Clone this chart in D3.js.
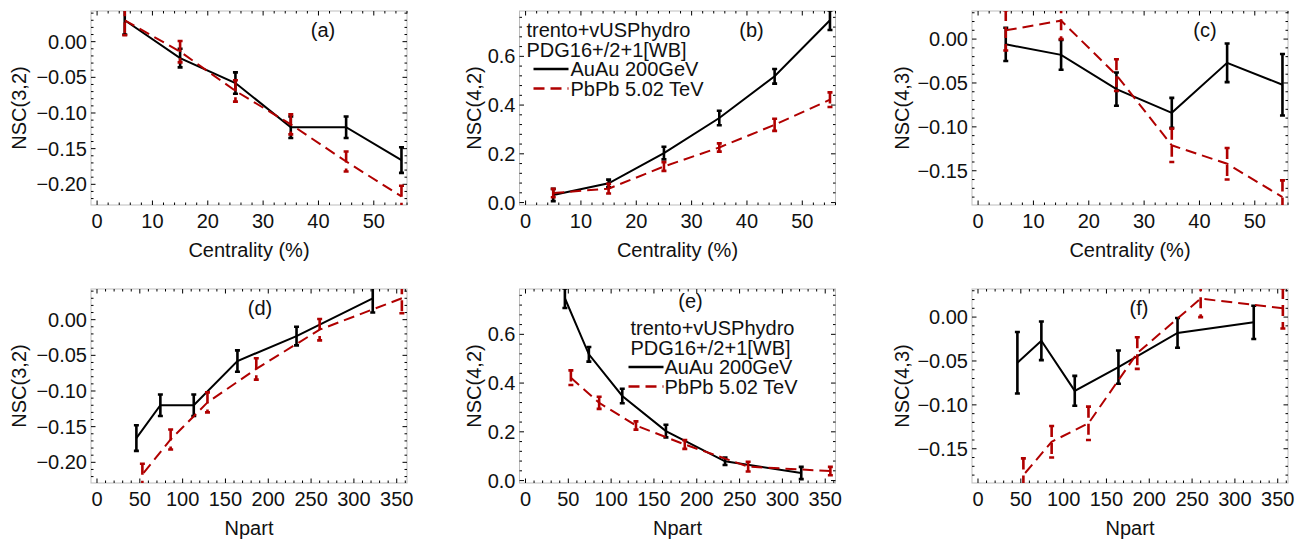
<!DOCTYPE html>
<html>
<head>
<meta charset="utf-8">
<script src="https://cdn.jsdelivr.net/npm/d3@7"></script>
<style>
  body { margin: 0; background: #fff; }
  text { font-family: "Liberation Sans", Arial, sans-serif; fill: #111; }
</style>
</head>
<body>
<div id="chart"></div>
<script>
// Data: centrality bins and the matching Npart for each system
const centrality = [5, 15, 25, 35, 45, 55];
const npartAuAu = [322, 233, 164, 113, 74, 46];
const npartPbPb = [356, 260, 186, 129, 86, 53];

// NSC values and their errors
const nsc32AuAu = [0.030, -0.023, -0.058, -0.120, -0.120, -0.166];
const nsc32AuAuErr = [0.020, 0.013, 0.015, 0.015, 0.015, 0.018];
const nsc32PbPb = [0.030, -0.014, -0.069, -0.116, -0.168, -0.217];
const nsc32PbPbErr = [0.021, 0.015, 0.015, 0.014, 0.014, 0.015];

const nsc42AuAu = [0.031, 0.079, 0.203, 0.347, 0.518, 0.748];
const nsc42AuAuErr = [0.025, 0.015, 0.026, 0.030, 0.030, 0.040];
const nsc42PbPb = [0.039, 0.057, 0.148, 0.226, 0.319, 0.422];
const nsc42PbPbErr = [0.017, 0.020, 0.018, 0.017, 0.025, 0.030];

const nsc43AuAu = [-0.006, -0.018, -0.057, -0.084, -0.027, -0.052];
const nsc43AuAuErr = [0.019, 0.017, 0.019, 0.017, 0.022, 0.035];
const nsc43PbPb = [0.010, 0.021, -0.041, -0.121, -0.142, -0.180];
const nsc43PbPbErr = [0.023, 0.021, 0.018, 0.019, 0.018, 0.019];

// Tick labels
const centralityTicks = [0, 10, 20, 30, 40, 50];
const npartTicks = [0, 50, 100, 150, 200, 250, 300, 350];
const nsc32Ticks = [-0.20, -0.15, -0.10, -0.05, 0.00];
const nsc42Ticks = [0.0, 0.2, 0.4, 0.6];
const nsc43Ticks = [-0.15, -0.10, -0.05, 0.00];

const legendLines = ["trento+vUSPhydro", "PDG16+/2+1[WB]"];
const seriesNames = ["AuAu 200GeV", "PbPb 5.02 TeV"];

// Layout
const W = 1312, H = 542;
const cols = [91, 519.5, 972];
const rows = [11, 289];
const pw = 316, ph = 194;
const black = "#000", red = "#b00000";
const dash = "11,6";

const svg = d3.select("#chart").append("svg")
    .attr("width", W)
    .attr("height", H);

const zip = (xs, ys, es) => xs.map((x, i) => ({ x: x, y: ys[i], e: es[i] }));

const xCent = { domain: [-1.1, 56], ticks: centralityTicks, minor: 2, fmt: d3.format("d"), title: "Centrality (%)" };
const xNpart = { domain: [-7, 362], ticks: npartTicks, minor: 10, fmt: d3.format("d"), title: "Npart" };
const y32 = { domain: [-0.229, 0.043], ticks: nsc32Ticks, minor: 0.01, fmt: d3.format(".2f"), title: "NSC(3,2)", off: 72 };
const y42 = { domain: [-0.01, 0.786], ticks: nsc42Ticks, minor: 0.04, fmt: d3.format(".1f"), title: "NSC(4,2)", off: 46 };
const y43 = { domain: [-0.189, 0.032], ticks: nsc43Ticks, minor: 0.01, fmt: d3.format(".2f"), title: "NSC(4,3)", off: 70 };

const panels = [
  { label: "(a)", col: 0, row: 0, xa: xCent, ya: y32, lx: 232, ly: 26,
    au: zip(centrality, nsc32AuAu, nsc32AuAuErr), pb: zip(centrality, nsc32PbPb, nsc32PbPbErr) },
  { label: "(b)", col: 1, row: 0, xa: xCent, ya: y42, lx: 232, ly: 26, legend: { x: 7, y: 26, sx: 14, tx: 51 },
    au: zip(centrality, nsc42AuAu, nsc42AuAuErr), pb: zip(centrality, nsc42PbPb, nsc42PbPbErr) },
  { label: "(c)", col: 2, row: 0, xa: xCent, ya: y43, lx: 233, ly: 26,
    au: zip(centrality, nsc43AuAu, nsc43AuAuErr), pb: zip(centrality, nsc43PbPb, nsc43PbPbErr) },
  { label: "(d)", col: 0, row: 1, xa: xNpart, ya: y32, lx: 169, ly: 26,
    au: zip(npartAuAu, nsc32AuAu, nsc32AuAuErr), pb: zip(npartPbPb, nsc32PbPb, nsc32PbPbErr) },
  { label: "(e)", col: 1, row: 1, xa: xNpart, ya: y42, lx: 171, ly: 19, legend: { x: 111, y: 46, sx: 109, tx: 145 },
    au: zip(npartAuAu, nsc42AuAu, nsc42AuAuErr), pb: zip(npartPbPb, nsc42PbPb, nsc42PbPbErr) },
  { label: "(f)", col: 2, row: 1, xa: xNpart, ya: y43, lx: 167, ly: 26,
    au: zip(npartAuAu, nsc43AuAu, nsc43AuAuErr), pb: zip(npartPbPb, nsc43PbPb, nsc43PbPbErr) }
];

function minorTicks(domain, step) {
  const start = Math.ceil(domain[0] / step - 1e-9);
  const end = Math.floor(domain[1] / step + 1e-9);
  return d3.range(start, end + 1).map(k => k * step);
}

panels.forEach((p, idx) => {
  const g = svg.append("g")
      .attr("transform", `translate(${cols[p.col]},${rows[p.row]})`);

  const x = d3.scaleLinear().domain(p.xa.domain).range([0, pw]);
  const y = d3.scaleLinear().domain(p.ya.domain).range([ph, 0]);

  // clip for marks
  g.append("defs").append("clipPath")
      .attr("id", "clip" + idx)
    .append("rect")
      .attr("width", pw)
      .attr("height", ph);

  // frame
  g.append("rect")
      .attr("width", pw)
      .attr("height", ph)
      .attr("fill", "none")
      .attr("stroke", "#bdbdbd")
      .attr("stroke-width", 1);

  // frame ticks on all four sides (inward)
  const tickG = g.append("g").attr("stroke", "#000").attr("stroke-width", 1);
  const xMinor = minorTicks(p.xa.domain, p.xa.minor);
  const yMinor = minorTicks(p.ya.domain, p.ya.minor);
  const isMajor = (v, list) => list.some(t => Math.abs(t - v) < 1e-6);

  xMinor.forEach(v => {
    const len = isMajor(v, p.xa.ticks) ? 4.5 : 2.5;
    const px = x(v);
    tickG.append("line").attr("x1", px).attr("x2", px).attr("y1", ph).attr("y2", ph - len);
    tickG.append("line").attr("x1", px).attr("x2", px).attr("y1", 0).attr("y2", len);
  });
  yMinor.forEach(v => {
    const len = isMajor(v, p.ya.ticks) ? 4.5 : 2.5;
    const py = y(v);
    tickG.append("line").attr("x1", 0).attr("x2", len).attr("y1", py).attr("y2", py);
    tickG.append("line").attr("x1", pw).attr("x2", pw - len).attr("y1", py).attr("y2", py);
  });

  // tick labels
  g.append("g").selectAll("text")
    .data(p.xa.ticks)
    .join("text")
      .attr("x", d => x(d))
      .attr("y", ph + 23)
      .attr("text-anchor", "middle")
      .style("font-size", "20px")
      .text(d => p.xa.fmt(d));

  g.append("g").selectAll("text")
    .data(p.ya.ticks)
    .join("text")
      .attr("x", -4)
      .attr("y", d => y(d))
      .attr("dy", "0.35em")
      .attr("text-anchor", "end")
      .style("font-size", "20px")
      .text(d => p.ya.fmt(d));

  // axis titles
  g.append("text")
      .attr("x", pw / 2)
      .attr("y", ph + 52)
      .attr("text-anchor", "middle")
      .style("font-size", "20px")
      .text(p.xa.title);

  g.append("text")
      .attr("transform", `translate(${-p.ya.off},${ph / 2}) rotate(-90)`)
      .attr("dy", "0.35em")
      .attr("text-anchor", "middle")
      .style("font-size", "20px")
      .text(p.ya.title);

  // series
  const marks = g.append("g").attr("clip-path", `url(#clip${idx})`);
  const line = d3.line().x(d => x(d.x)).y(d => y(d.y));

  [[p.au, black, null], [p.pb, red, dash]].forEach(([data, color, da]) => {
    marks.append("path")
        .datum(data)
        .attr("fill", "none")
        .attr("stroke", color)
        .attr("stroke-width", 2)
        .attr("stroke-dasharray", da)
        .attr("d", line);

    const bars = marks.append("g")
        .attr("stroke", color)
        .attr("stroke-width", 2.6)
        .attr("stroke-dasharray", da);

    bars.selectAll("path")
      .data(data)
      .join("path")
        .attr("fill", "none")
        .attr("d", d => {
          const px = x(d.x), y1 = y(d.y + d.e), y2 = y(d.y - d.e);
          return `M${px - 2.5},${y1}H${px + 2.5}M${px},${y1}V${y2}M${px - 2.5},${y2}H${px + 2.5}`;
        });
  });

  // panel label
  g.append("text")
      .attr("x", p.lx)
      .attr("y", p.ly)
      .attr("text-anchor", "middle")
      .style("font-size", "20px")
      .text(p.label);

  // legend
  if (p.legend) {
    const L = p.legend;
    legendLines.forEach((t, i) => {
      g.append("text")
          .attr("x", L.x)
          .attr("y", L.y + i * 19.5)
          .style("font-size", "20px")
          .text(t);
    });
    [[black, null], [red, dash]].forEach(([color, da], i) => {
      const base = L.y + (i + 2) * 19.5;
      g.append("line")
          .attr("x1", L.sx).attr("x2", L.sx + 35)
          .attr("y1", base - 7).attr("y2", base - 7)
          .attr("stroke", color)
          .attr("stroke-width", 2.6)
          .attr("stroke-dasharray", da);
      g.append("text")
          .attr("x", L.tx)
          .attr("y", base)
          .style("font-size", "20px")
          .text(seriesNames[i]);
    });
  }
});
</script>
</body>
</html>
